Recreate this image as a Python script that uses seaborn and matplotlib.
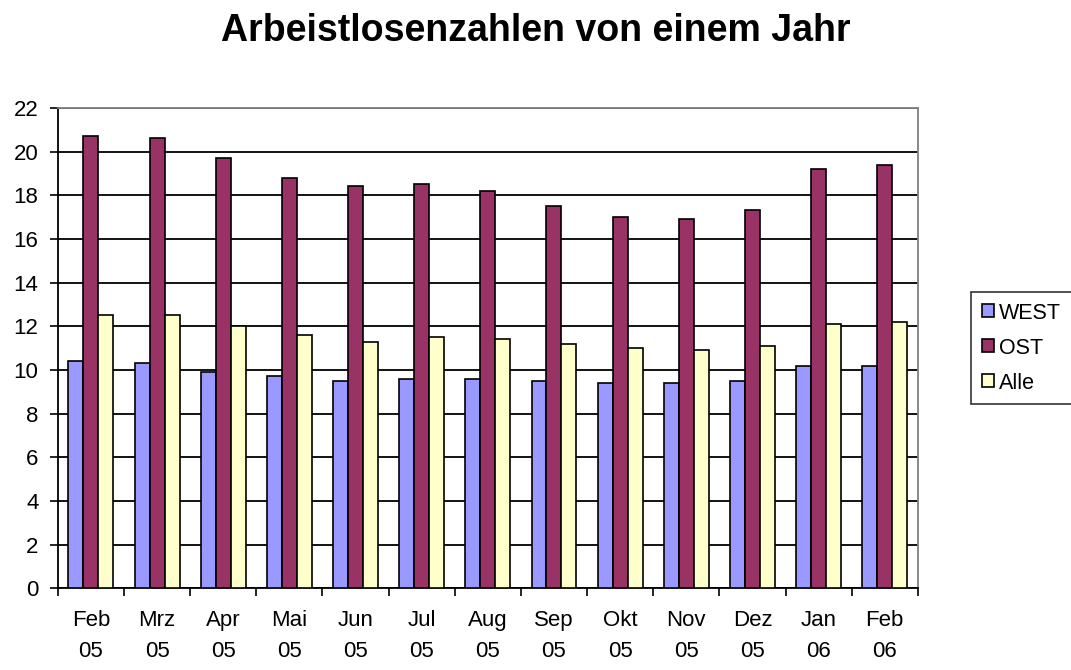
import matplotlib
matplotlib.use("Agg")
import matplotlib.pyplot as plt
import seaborn as sns
import pandas as pd
import numpy as np

months = ["Feb\n05", "Mrz\n05", "Apr\n05", "Mai\n05", "Jun\n05", "Jul\n05", "Aug\n05",
          "Sep\n05", "Okt\n05", "Nov\n05", "Dez\n05", "Jan\n06", "Feb\n06"]
west = [10.4, 10.3, 9.9, 9.7, 9.5, 9.6, 9.6, 9.5, 9.4, 9.4, 9.5, 10.2, 10.2]
ost = [20.7, 20.6, 19.7, 18.8, 18.4, 18.5, 18.2, 17.5, 17.0, 16.9, 17.3, 19.2, 19.4]
alle = [12.5, 12.5, 12.0, 11.6, 11.3, 11.5, 11.4, 11.2, 11.0, 10.9, 11.1, 12.1, 12.2]
series_names = ["WEST", "OST", "Alle"]
yticks = list(range(0, 23, 2))

df = pd.DataFrame({
    "Monat": months * 3,
    "Wert": west + ost + alle,
    "Serie": [series_names[0]] * 13 + [series_names[1]] * 13 + [series_names[2]] * 13,
})

sns.set_theme(style="white")
plt.rcParams['font.family'] = ['Liberation Sans', 'DejaVu Sans']
plt.rcParams['text.color'] = 'black'
plt.rcParams['xtick.color'] = 'black'
plt.rcParams['ytick.color'] = 'black'
plt.rcParams['xtick.labelcolor'] = 'black'
plt.rcParams['ytick.labelcolor'] = 'black'

fig = plt.figure(figsize=(10.71, 6.70), dpi=100)
ax = fig.add_axes([0.054, 0.122, 0.803, 0.717])

palette = {"WEST": "#9999FF", "OST": "#993366", "Alle": "#FFFFCC"}
sns.barplot(data=df, x="Monat", y="Wert", hue="Serie", palette=palette,
            order=months, hue_order=series_names, width=0.68, dodge=True,
            edgecolor="black", linewidth=1.2, saturation=1, ax=ax, zorder=3)

ax.set_ylim(0, 22)
ax.set_xlim(-0.5, len(months) - 0.5)
ax.set_yticks(yticks)
ax.set_yticklabels([str(t) for t in yticks], fontsize=16)
ax.yaxis.grid(True, color="black", linewidth=1.3, zorder=0)
ax.set_axisbelow(True)
ax.set_xlabel("")
ax.set_ylabel("")

ax.set_xticks(range(len(months)))
ax.set_xticklabels(months, fontsize=16, linespacing=1.6)
ax.tick_params(axis="x", which="major", length=0, pad=16)
ax.set_xticks(np.arange(-0.5, len(months), 1.0), minor=True)
ax.tick_params(axis="x", which="minor", length=6, width=1.2, color="black", direction="out", bottom=True)
ax.tick_params(axis="y", length=6, width=1.2, color="black", direction="out", left=True, pad=8)

for s in ["left", "bottom"]:
    ax.spines[s].set_color("black")
    ax.spines[s].set_linewidth(1.3)
for s in ["top", "right"]:
    ax.spines[s].set_color("#808080")
    ax.spines[s].set_linewidth(1.3)

leg = ax.legend(loc="center left", bbox_to_anchor=(1.062, 0.50), fontsize=15.5,
                frameon=True, fancybox=False, edgecolor="black", handlelength=0.55,
                handleheight=0.55, handletextpad=0.25, borderpad=0.5, labelspacing=0.65,
                borderaxespad=0)
leg.get_frame().set_linewidth(1.2)
for h in leg.legend_handles:
    h.set_edgecolor("black")
    h.set_linewidth(1.2)

fig.suptitle("Arbeistlosenzahlen von einem Jahr", fontsize=27, fontweight="bold", y=0.98, x=0.5)

fig.savefig("out.png", dpi=100, facecolor="white")
